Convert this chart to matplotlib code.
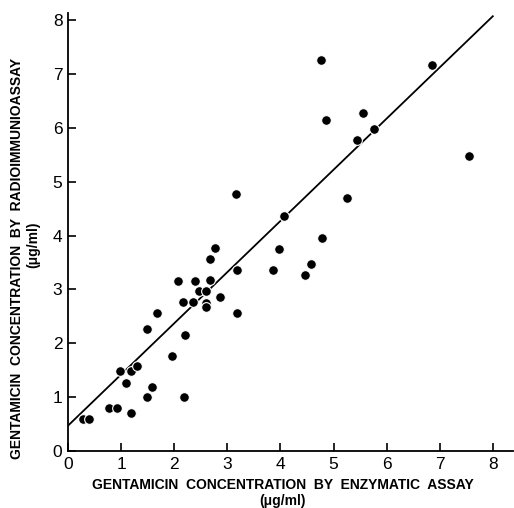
import numpy as np
import matplotlib
matplotlib.use("Agg")
import matplotlib.pyplot as plt

# enzymatic assay (x) vs radioimmunoassay (y), ug/ml
enz = [0.29, 0.40, 0.77, 0.92, 1.19, 0.98, 1.09, 1.19, 1.29, 1.48,
       1.58, 1.48, 1.68, 1.96, 2.18, 2.20, 2.07, 2.17, 2.36, 2.39,
       2.47, 2.59, 2.59, 2.59, 2.67, 2.67, 2.77, 2.86, 3.18, 3.18,
       3.16, 3.86, 3.97, 4.06, 4.46, 4.58, 4.78, 4.76, 4.85, 5.25,
       5.45, 5.56, 5.76, 6.85, 7.56]
ria = [0.59, 0.59, 0.80, 0.80, 0.70, 1.48, 1.27, 1.48, 1.58, 1.01,
       1.19, 2.26, 2.57, 1.76, 1.00, 2.15, 3.16, 2.77, 2.76, 3.16,
       2.97, 2.97, 2.74, 2.68, 3.17, 3.56, 3.77, 2.86, 3.36, 2.57,
       4.77, 3.36, 3.75, 4.36, 3.27, 3.47, 3.96, 7.25, 6.15, 4.69,
       5.77, 6.27, 5.97, 7.16, 5.48]

# regression line end points
fit_x = [0, 8]
fit_y = [0.47, 8.07]

ticks = [0, 1, 2, 3, 4, 5, 6, 7, 8]

fig = plt.figure(figsize=(5.14, 5.08), dpi=100)
ax = fig.add_axes([68 / 514, 57 / 508, 445 / 514, 438 / 508])

ax.plot(fit_x, fit_y, color="black", lw=1.3, zorder=2)
ax.plot(enz, ria, "o", ms=7.0, mfc="black", mec="white", mew=0.8, zorder=3)

ax.set_xlim(0, 8.38)
ax.set_ylim(0, 8.13)
ax.set_xticks(ticks)
ax.set_yticks(ticks)
for s in ["top", "right"]:
    ax.spines[s].set_visible(False)
for s in ["left", "bottom"]:
    ax.spines[s].set_linewidth(1.3)
ax.tick_params(direction="in", length=6, width=1.2, pad=4, labelsize=12.5)
for lab in ax.get_xticklabels() + ax.get_yticklabels():
    lab.set_family("Liberation Sans")

lbl = dict(family="Liberation Sans", fontsize=10, fontweight="bold", ha="center", va="center")
fig.text(283 / 514, 1 - 485 / 508, "GENTAMICIN  CONCENTRATION  BY  ENZYMATIC  ASSAY", **lbl)
fig.text(283 / 514, 1 - 501 / 508, "(μg/ml)", **lbl)
fig.text(17 / 514, 1 - 258 / 508, "GENTAMICIN  CONCENTRATION  BY  RADIOIMMUNIOASSAY", rotation=90, **lbl)
fig.text(33 / 514, 1 - 245 / 508, "(μg/ml)", rotation=90, **lbl)

fig.savefig("out.png", dpi=100)
